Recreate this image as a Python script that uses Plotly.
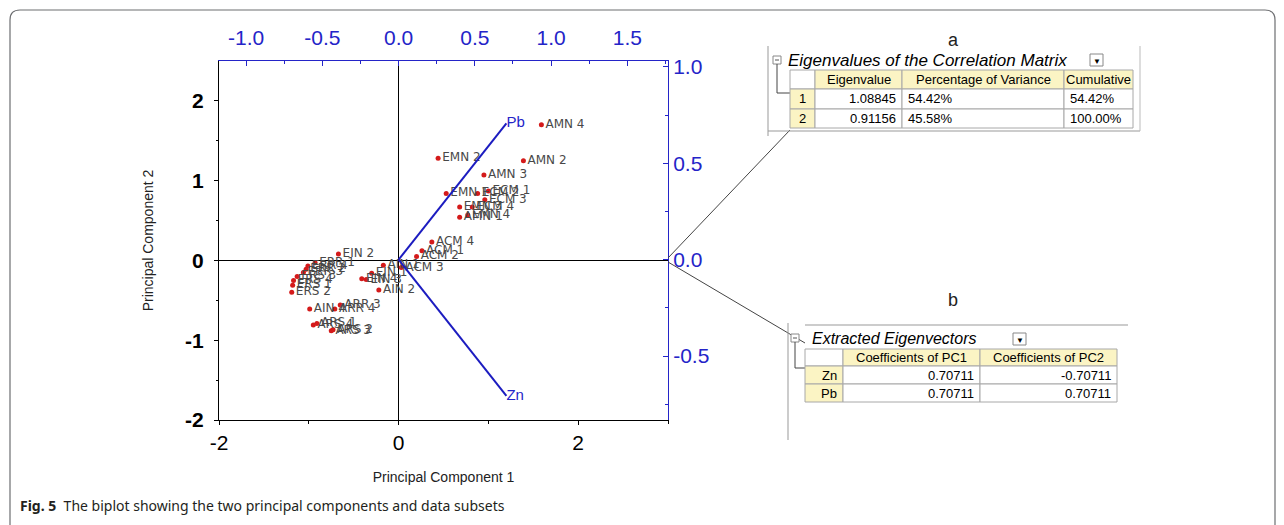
import plotly.graph_objects as go

# ---- PCA scores (PC1, PC2) for each sample ----
sample_names = [
    "AMN 4", "AMN 2", "EMN 2", "AMN 3",
    "EMN 1", "ECM 2", "ECM 1", "ECM 3", "EMN 3", "ECM 4", "AMN 1", "EMN 4",
    "ACM 4", "ACM 1", "ACM 2", "ACM 3",
    "EIN 2", "AIN 1", "EIN 1", "EIN 3", "EIN 4", "AIN 2",
    "ERR 1", "ERR 4", "ERR 2", "ERR 3", "ERS 3", "ERS 4", "ERS 1", "ERS 2",
    "AIN 4", "ARR 4", "ARR 3", "ARS 4", "ARS 1", "ARS 3", "ARS 2",
]
pc1_scores = [
    1.59, 1.39, 0.44, 0.95,
    0.53, 0.88, 1.00, 0.96, 0.68, 0.82, 0.68, 0.77,
    0.37, 0.26, 0.20, 0.03,
    -0.67, -0.17, -0.30, -0.36, -0.41, -0.22,
    -0.93, -1.01, -1.03, -1.06, -1.13, -1.17, -1.18, -1.19,
    -0.99, -0.71, -0.65, -0.95, -0.91, -0.75, -0.73,
]
pc2_scores = [
    1.70, 1.25, 1.28, 1.07,
    0.84, 0.84, 0.87, 0.76, 0.67, 0.67, 0.54, 0.57,
    0.23, 0.12, 0.05, -0.09,
    0.08, -0.06, -0.16, -0.24, -0.23, -0.37,
    -0.03, -0.07, -0.11, -0.15, -0.20, -0.25, -0.31, -0.40,
    -0.61, -0.61, -0.56, -0.81, -0.79, -0.88, -0.87,
]

# ---- eigen analysis tables ----
eig_index = ["1", "2"]
eigenvalues = [1.08845, 0.91156]
pct_variance = [54.42, 45.58]
cumulative = [54.42, 100.00]

variables = ["Zn", "Pb"]
coef_pc1 = [0.70711, 0.70711]
coef_pc2 = [-0.70711, 0.70711]

# ---- axis ticks ----
score_x_ticks = [-2, 0, 2]
score_y_ticks = [-2, -1, 0, 1, 2]
load_x_ticks = [-1.0, -0.5, 0.0, 0.5, 1.0, 1.5]
load_y_ticks = [-0.5, 0.0, 0.5, 1.0]

W, H = 1284, 525
PL, PR, PT, PB = 219, 668, 61, 420  # plot area in pixels
BLUE = "#2424c8"
FONT = "Arial, Liberation Sans, sans-serif"


def px(x):
    return (x - PL) / (PR - PL)


def py(y):
    return (PB - y) / (PB - PT)


def fmt_tick(v, nd):
    return f"{v:.{nd}f}"


fig = go.Figure()

# scores
fig.add_trace(go.Scatter(
    x=pc1_scores, y=pc2_scores, text=sample_names, mode="markers+text",
    textposition="middle right",
    marker=dict(color="#d41a1a", size=5, symbol="circle"),
    textfont=dict(family="DejaVu Sans, sans-serif", size=12, color="#484848"),
    xaxis="x", yaxis="y", showlegend=False, cliponaxis=False,
))

# loading vectors
for name, c1, c2 in zip(variables, coef_pc1, coef_pc2):
    fig.add_trace(go.Scatter(
        x=[0, c1], y=[0, c2], mode="lines+text", text=["", name],
        textposition="middle right",
        line=dict(color="#1c1cc0", width=2),
        textfont=dict(family=FONT, size=15, color=BLUE),
        xaxis="x2", yaxis="y2", showlegend=False, cliponaxis=False,
    ))

fig.update_layout(
    width=W, height=H,
    margin=dict(l=PL, r=W - PR, t=PT, b=H - PB, pad=0),
    paper_bgcolor="white", plot_bgcolor="white",
    xaxis=dict(
        range=[-2, 3], tickvals=score_x_ticks,
        ticktext=[fmt_tick(v, 0) for v in score_x_ticks],
        showgrid=False, zeroline=True, zerolinecolor="black", zerolinewidth=1,
        showline=True, linecolor="black", linewidth=1,
        ticks="outside", ticklen=4, tickcolor="black",
        minor=dict(tickvals=[-1, 1, 3], ticks="outside", ticklen=3, tickcolor="black"),
        tickfont=dict(family=FONT, size=21, color="black"),
        title=dict(text="Principal Component 1", font=dict(family=FONT, size=14, color="#222"), standoff=18),
    ),
    yaxis=dict(
        range=[-2, 2.5], tickvals=score_y_ticks,
        ticktext=[fmt_tick(v, 0) for v in score_y_ticks],
        showgrid=False, zeroline=True, zerolinecolor="black", zerolinewidth=1,
        showline=True, linecolor="black", linewidth=1,
        ticks="outside", ticklen=4, tickcolor="black", ticklabelstandoff=6,
        minor=dict(tickvals=[-1.5, -0.5, 0.5, 1.5], ticks="outside", ticklen=2, tickcolor="black"),
        tickfont=dict(family=FONT, size=21, color="black", weight="bold"),
        title=dict(text="Principal Component 2", font=dict(family=FONT, size=14, color="#222"), standoff=28),
    ),
    xaxis2=dict(
        range=[-1.178, 1.767], overlaying="x", side="top", anchor="y",
        tickvals=load_x_ticks, ticktext=[fmt_tick(v, 1) for v in load_x_ticks],
        showgrid=False, zeroline=False,
        showline=True, linecolor=BLUE, linewidth=1,
        ticks="inside", ticklen=5, tickcolor=BLUE, ticklabelstandoff=7,
        minor=dict(tickvals=[-0.75, -0.25, 0.25, 0.75, 1.25, 1.75], ticks="inside", ticklen=3, tickcolor=BLUE),
        tickfont=dict(family=FONT, size=21, color=BLUE),
    ),
    yaxis2=dict(
        range=[-0.832, 1.031], overlaying="y", side="right", anchor="x",
        tickvals=load_y_ticks, ticktext=[fmt_tick(v, 1) for v in load_y_ticks],
        showgrid=False, zeroline=False,
        showline=True, linecolor=BLUE, linewidth=1,
        ticks="inside", ticklen=5, tickcolor=BLUE,
        minor=dict(tickvals=[-0.75, -0.25, 0.25, 0.75], ticks="inside", ticklen=3, tickcolor=BLUE),
        tickfont=dict(family=FONT, size=21, color=BLUE),
    ),
)

shapes = []
annots = []


def line(x0, y0, x1, y1, color="#555", width=1):
    shapes.append(dict(type="line", xref="paper", yref="paper",
                       x0=px(x0), y0=py(y0), x1=px(x1), y1=py(y1),
                       line=dict(color=color, width=width)))


def rect(x0, y0, x1, y1, fill, border="#a8a8a8", width=1):
    shapes.append(dict(type="rect", xref="paper", yref="paper",
                       x0=px(x0), y0=py(y0), x1=px(x1), y1=py(y1),
                       fillcolor=fill, line=dict(color=border, width=width)))


def text(x, y, s, size=13, color="black", xanchor="center", italic=False, family=FONT):
    annots.append(dict(xref="paper", yref="paper", x=px(x), y=py(y), text=s,
                       showarrow=False, xanchor=xanchor, yanchor="middle",
                       font=dict(family=family, size=size, color=color,
                                 style="italic" if italic else "normal")))


def collapse_icon(x, y):
    rect(x - 4, y - 4, x + 4, y + 4, "white", "#888")
    line(x - 2, y, x + 2, y, "#555")


def dropdown(x0, y0, x1, y1):
    rect(x0, y0, x1, y1, "white", "#888")
    text((x0 + x1) / 2, (y0 + y1) / 2 + 1, "▼", size=8, color="black")


# outer rounded frame
r = 10
fx0, fy0, fx1, fy1 = 10, 10, 1275, 540
path = (f"M {px(fx0)},{py(fy1)} L {px(fx0)},{py(fy0 + r)} "
        f"Q {px(fx0)},{py(fy0)} {px(fx0 + r)},{py(fy0)} "
        f"L {px(fx1 - r)},{py(fy0)} Q {px(fx1)},{py(fy0)} {px(fx1)},{py(fy0 + r)} "
        f"L {px(fx1)},{py(fy1)}")
shapes.append(dict(type="path", xref="paper", yref="paper", path=path,
                   line=dict(color="#6d6e71", width=1.2)))

# leader lines from the plot to the tables
line(668, 258, 790, 130, "#444")
line(668, 262, 805, 343, "#444")

YEL = "#fbf4c4"

# ---- table a ----
text(953, 40, "a", size=18, color="#222")
line(768, 46, 768, 136, "#999")
line(768, 131, 1140, 131, "#999")
line(1140, 46, 1140, 131, "#bbb")
collapse_icon(777, 60)
line(777, 64, 777, 93, "#444")
line(777, 93, 790, 93, "#444")
text(786, 60, "Eigenvalues of the Correlation Matrix", size=17, italic=True, xanchor="left")
dropdown(1090, 54, 1103, 66)

ca = [790, 815, 902, 1064, 1133]
ra = [70, 89, 109, 128]
for i in range(4):
    rect(ca[i], ra[0], ca[i + 1], ra[1], "white" if i == 0 else YEL)
for j in range(2):
    rect(ca[0], ra[j + 1], ca[1], ra[j + 2], YEL)
    for i in range(1, 4):
        rect(ca[i], ra[j + 1], ca[i + 1], ra[j + 2], "white")
text((ca[1] + ca[2]) / 2, (ra[0] + ra[1]) / 2, "Eigenvalue")
text((ca[2] + ca[3]) / 2, (ra[0] + ra[1]) / 2, "Percentage of Variance")
text((ca[3] + ca[4]) / 2, (ra[0] + ra[1]) / 2, "Cumulative")
for j in range(2):
    yc = (ra[j + 1] + ra[j + 2]) / 2
    text((ca[0] + ca[1]) / 2, yc, eig_index[j])
    text(ca[2] - 4, yc, f"{eigenvalues[j]:.5f}", xanchor="right")
    text(ca[2] + 4, yc, f"{pct_variance[j]:.2f}%", xanchor="left")
    text(ca[3] + 4, yc, f"{cumulative[j]:.2f}%", xanchor="left")

# ---- table b ----
text(953, 300, "b", size=18, color="#222")
line(805, 325, 1128, 325, "#999")
line(788, 323, 788, 440, "#999")
collapse_icon(795, 338)
line(795, 342, 795, 368, "#444")
line(795, 368, 805, 368, "#444")
text(810, 338, "Extracted Eigenvectors", size=16, italic=True, xanchor="left")
dropdown(1013, 333, 1026, 345)

cb = [805, 843, 980, 1117]
rb = [349, 366, 384, 402]
rect(cb[0], rb[0], cb[1], rb[1], "white")
rect(cb[1], rb[0], cb[2], rb[1], YEL)
rect(cb[2], rb[0], cb[3], rb[1], YEL)
text((cb[1] + cb[2]) / 2, (rb[0] + rb[1]) / 2, "Coefficients of PC1")
text((cb[2] + cb[3]) / 2, (rb[0] + rb[1]) / 2, "Coefficients of PC2")
for j in range(2):
    yc = (rb[j + 1] + rb[j + 2]) / 2
    rect(cb[0], rb[j + 1], cb[1], rb[j + 2], YEL)
    rect(cb[1], rb[j + 1], cb[2], rb[j + 2], "white")
    rect(cb[2], rb[j + 1], cb[3], rb[j + 2], "white")
    text(cb[1] - 4, yc, variables[j], xanchor="right")
    text(cb[2] - 4, yc, f"{coef_pc1[j]:.5f}", xanchor="right")
    text(cb[3] - 4, yc, f"{coef_pc2[j]:.5f}", xanchor="right")

# caption
annots.append(dict(xref="paper", yref="paper", x=px(18), y=py(505),
                   text="<b>Fig. 5</b>  The biplot showing the two principal components and data subsets",
                   showarrow=False, xanchor="left", yanchor="middle",
                   font=dict(family="Noto Sans, Open Sans, sans-serif", size=14, color="#231f20")))

fig.update_layout(shapes=shapes, annotations=annots)
fig.write_html("out.html")
